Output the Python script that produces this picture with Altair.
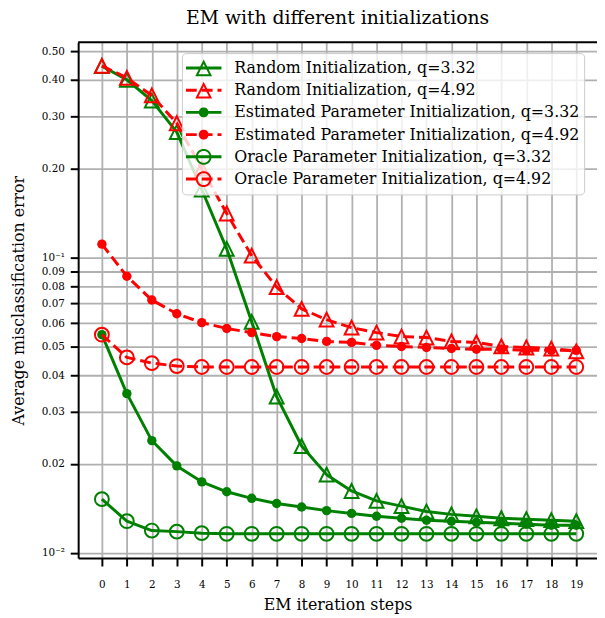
import math
import altair as alt
import pandas as pd

# ---------------- data ----------------
steps = list(range(20))

random_332 = [0.445, 0.400, 0.340, 0.266, 0.170, 0.107, 0.0606, 0.0338, 0.0230, 0.0184,
              0.0162, 0.0150, 0.0144, 0.0138, 0.0135, 0.0133, 0.0131, 0.0130, 0.0129, 0.0128]
random_492 = [0.446, 0.406, 0.354, 0.285, 0.200, 0.141, 0.1015, 0.0794, 0.0670, 0.0616,
              0.0579, 0.0557, 0.0540, 0.0536, 0.0520, 0.0516, 0.0500, 0.0496, 0.0492, 0.0481]
est_332 = [0.0548, 0.0346, 0.0240, 0.0197, 0.0174, 0.0161, 0.0153, 0.0147, 0.0143, 0.0139,
           0.0136, 0.0133, 0.0131, 0.0129, 0.0128, 0.0127, 0.0126, 0.0125, 0.0124, 0.0124]
est_492 = [0.111, 0.0864, 0.0718, 0.0645, 0.0602, 0.0575, 0.0557, 0.0540, 0.0532, 0.0520,
           0.0516, 0.0504, 0.0500, 0.0496, 0.0492, 0.0489, 0.0489, 0.0485, 0.0485, 0.0485]
oracle_332 = [0.0152, 0.0128, 0.0119, 0.0118, 0.01166, 0.0116, 0.0116, 0.0116, 0.0116, 0.0116,
              0.0116, 0.0116, 0.0116, 0.0116, 0.0116, 0.0116, 0.0116, 0.0116, 0.0116, 0.0116]
oracle_492 = [0.0548, 0.0459, 0.0439, 0.0429, 0.0426, 0.0426, 0.0426, 0.0426, 0.0426, 0.0426,
              0.0426, 0.0426, 0.0426, 0.0426, 0.0426, 0.0426, 0.0426, 0.0426, 0.0426, 0.0426]

labels = [
    "Random Initialization, q=3.32",
    "Random Initialization, q=4.92",
    "Estimated Parameter Initialization, q=3.32",
    "Estimated Parameter Initialization, q=4.92",
    "Oracle Parameter Initialization, q=3.32",
    "Oracle Parameter Initialization, q=4.92",
]
series_values = [random_332, random_492, est_332, est_492, oracle_332, oracle_492]
colors = ["#008000", "#ff0000", "#008000", "#ff0000", "#008000", "#ff0000"]
dashed = [False, True, False, True, False, True]
markers = ["triangle", "triangle", "dot", "dot", "ring", "ring"]

y_ticks = [0.01, 0.02, 0.03, 0.04, 0.05, 0.06, 0.07, 0.08, 0.09, 0.1, 0.2, 0.3, 0.4, 0.5]

# ---------------- style ----------------
FONT = "DejaVu Serif"
W, H = 525, 522
TRI = "M0,-1L1,1L-1,1Z"

x_enc = alt.X(
    "step:Q",
    scale=alt.Scale(domain=[-0.95, 19.83], nice=False, zero=False),
    axis=alt.Axis(values=steps, format="d", title="EM iteration steps",
                  labelFontSize=10.5, titleFontSize=16, titleFontWeight="normal",
                  labelPadding=14, titlePadding=7, tickSize=8, tickWidth=2,
                  tickColor="black", domainColor="black", domainWidth=2,
                  gridColor="#b0b0b0", gridWidth=1.8, labelColor="black",
                  titleColor="black"),
)
y_enc = alt.Y(
    "value:Q",
    scale=alt.Scale(type="log", domain=[0.0096, 0.536], nice=False),
    axis=alt.Axis(values=y_ticks, title="Average misclassification error",
                  labelExpr="abs(datum.value-0.1)<1e-9 ? '10\u207b\u00b9' : "
                            "(abs(datum.value-0.01)<1e-9 ? '10\u207b\u00b2' : format(datum.value, '.2f'))",
                  labelFontSize=10.5, titleFontSize=16, titleFontWeight="normal",
                  labelPadding=6, titlePadding=15, tickSize=8, tickWidth=2,
                  tickColor="black", domainColor="black", domainWidth=2,
                  gridColor="#b0b0b0", gridWidth=1.8, labelColor="black",
                  titleColor="black"),
)

layers = []
for name, vals, col, dash, mk in zip(labels, series_values, colors, dashed, markers):
    df = pd.DataFrame({"step": steps, "value": vals, "series": name})
    base = alt.Chart(df)
    line_kw = dict(color=col, strokeWidth=3, strokeJoin="round")
    if dash:
        line_kw["strokeDash"] = [11, 5]
    layers.append(base.mark_line(**line_kw).encode(x=x_enc, y=y_enc))
    if mk == "triangle":
        pm = base.mark_point(shape=TRI, size=196, filled=False, color=col,
                             strokeWidth=2, opacity=1)
    elif mk == "ring":
        pm = base.mark_point(shape="circle", size=196, filled=False, color=col,
                             strokeWidth=2, opacity=1)
    else:
        pm = base.mark_point(shape="circle", size=90, filled=True, color=col,
                             strokeWidth=0, opacity=1)
    layers.append(pm.encode(x=x_enc, y=y_enc))


# ---------------- legend symbols (line + marker drawn as one filled path) ----------------
U = 18.0  # px per path unit (symbolSize 36^2)


def rect(x0, x1, h):
    return f"M{x0:.4f},{-h:.4f}L{x1:.4f},{-h:.4f}L{x1:.4f},{h:.4f}L{x0:.4f},{h:.4f}Z"


def circle(r, n=36, rev=False):
    angs = [2 * math.pi * i / n for i in range(n)]
    if rev:
        angs = angs[::-1]
    pts = [f"{r*math.cos(a):.4f},{r*math.sin(a):.4f}" for a in angs]
    return "M" + "L".join(pts) + "Z"


def tri_ring(a, t):
    outer = [(0, -a), (a, a), (-a, a)]
    r = 2 * a / (1 + math.sqrt(5))
    iy = a - r
    k = (r - t) / r
    inner = [(k * vx, iy + k * (vy - iy)) for vx, vy in outer][::-1]
    s = "M" + "L".join(f"{x:.4f},{y:.4f}" for x, y in outer) + "Z"
    s += "M" + "L".join(f"{x:.4f},{y:.4f}" for x, y in inner) + "Z"
    return s


def legend_path(dash, mk):
    h = 1.5 / U
    if dash:
        d, g = 11 / U, 5 / U
        segs, x = [], -1.0
        while x < 1.0:
            segs.append(rect(x, min(x + d, 1.0), h))
            x += d + g
        p = "".join(segs)
    else:
        p = rect(-1, 1, h)
    if mk == "triangle":
        p += tri_ring(8.5 / U, 2 / U)
    elif mk == "ring":
        p += circle(8 / U) + circle(6 / U, rev=True)
    else:
        p += circle(5 / U)
    return p


legend_paths = [legend_path(d, m) for d, m in zip(dashed, markers)]

leg = alt.Legend(
    title=None, orient="none", legendX=105, legendY=11,
    labelFont=FONT, labelFontSize=16, labelColor="black", labelLimit=700,
    symbolSize=1296, symbolStrokeWidth=0, symbolOpacity=1,
    clipHeight=22, rowPadding=0.5, padding=4, labelOffset=13,
    fillColor="rgba(255,255,255,0.8)", strokeColor="#cccccc", cornerRadius=4,
)

legend_layer = alt.Chart(pd.DataFrame({"series": labels})).mark_point(
    filled=True, opacity=1, strokeWidth=0
).encode(
    shape=alt.Shape("series:N", scale=alt.Scale(domain=labels, range=legend_paths), legend=leg),
    color=alt.Color("series:N", scale=alt.Scale(domain=labels, range=colors), legend=leg),
).transform_filter("false")

frame_top = alt.Chart(pd.DataFrame({"a": [0]})).mark_rule(color="black", strokeWidth=2).encode(
    x=alt.value(0), x2=alt.value(W), y=alt.value(0)
)

chart = alt.layer(*layers, legend_layer, frame_top).properties(
    width=W, height=H,
    title=alt.TitleParams("EM with different initializations", font=FONT, fontSize=19,
                          fontWeight="normal", anchor="middle", color="black",
                          baseline="alphabetic", offset=16, dy=18),
    autosize=alt.AutoSizeParams(type="none"),
    padding={"left": 71, "top": 31, "right": 0, "bottom": 57},
).configure(font=FONT).configure_view(stroke=None).configure_axis(
    labelFont=FONT, titleFont=FONT
).configure_title(font=FONT, fontSize=19, fontWeight="normal", color="black")

chart.save("out.html", embed_options={"renderer": "svg", "actions": False})
